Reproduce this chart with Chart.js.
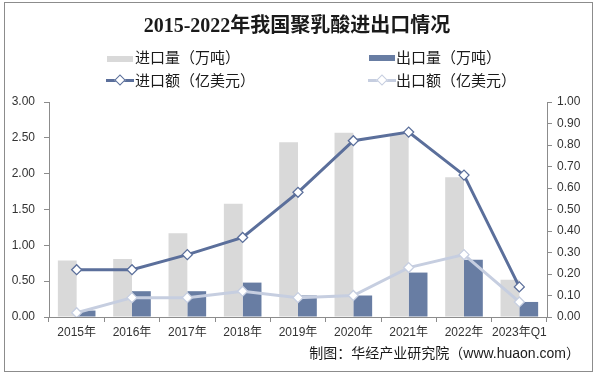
<!DOCTYPE html>
<html>
<head>
<meta charset="utf-8">
<script src="https://cdn.jsdelivr.net/npm/chart.js@4.4.1/dist/chart.umd.min.js"></script>
<style>
  html, body { margin: 0; padding: 0; background: #fff; }
  .app { position: relative; width: 598px; height: 374px; overflow: hidden;
    font-family: "Liberation Sans", "Noto Sans CJK SC", sans-serif; color: #262626; }
  .frame { position: absolute; left: 4px; top: 2px; width: 587px; height: 368px;
    border: 1px solid #8c8c8c; pointer-events: none; }
  #chartWrap { position: absolute; left: 0; top: 0; width: 598px; height: 374px; }
  .title { position: absolute; left: 0; width: 594px; top: 13px; text-align: center;
    font: bold 20px "Liberation Serif", "Noto Sans CJK SC", serif; color: #1a1a1a; line-height: 24px; }
  .lg { position: absolute; font-size: 15px; line-height: 18px; white-space: nowrap; color: #1a1a1a; }
  .sw { position: absolute; }
  .bar { height: 6px; }
  .ln { height: 3px; }
  .dia { position: absolute; width: 6px; height: 6px; background: #fff;
    border: 1.3px solid; transform: rotate(45deg); }
  .src { position: absolute; right: 18px; top: 344px; font-size: 14px; line-height: 18px; color: #1a1a1a; }
</style>
</head>
<body>
<div class="app">
  <div id="chartWrap"><canvas id="chart" width="598" height="374"></canvas></div>
  <div class="title">2015-2022年我国聚乳酸进出口情况</div>

  <div class="sw bar" style="left:107px;top:56px;width:26px;background:#d9d9d9"></div>
  <div class="lg" style="left:135px;top:49px">进口量（万吨）</div>
  <div class="sw bar" style="left:369px;top:55px;width:26px;background:#687da3"></div>
  <div class="lg" style="left:396px;top:49px">出口量（万吨）</div>

  <div class="sw ln" style="left:106px;top:79px;width:28px;background:#5b6f9b"></div>
  <div class="dia" style="left:116px;top:76px;border-color:#5b6f9b"></div>
  <div class="lg" style="left:135px;top:72px">进口额（亿美元）</div>
  <div class="sw ln" style="left:368px;top:79px;width:28px;background:#c6cee0"></div>
  <div class="dia" style="left:378px;top:76px;border-color:#c6cee0"></div>
  <div class="lg" style="left:396px;top:72px">出口额（亿美元）</div>

  <div class="src">制图：华经产业研究院（www.huaon.com）</div>
  <div class="frame"></div>
</div>
<script>
  const categories = ["2015年", "2016年", "2017年", "2018年", "2019年", "2020年", "2021年", "2022年", "2023年Q1"];
  // 万吨 (left axis)
  const importVolume = [0.79, 0.81, 1.17, 1.58, 2.44, 2.57, 2.55, 1.95, 0.52];
  const exportVolume = [0.09, 0.36, 0.36, 0.48, 0.30, 0.30, 0.62, 0.80, 0.21];
  // 亿美元 (right axis)
  const importValue = [0.22, 0.22, 0.29, 0.37, 0.58, 0.82, 0.86, 0.66, 0.14];
  const exportValue = [0.02, 0.09, 0.09, 0.12, 0.09, 0.10, 0.23, 0.29, 0.07];
  const leftTicks = [0, 0.5, 1, 1.5, 2, 2.5, 3];
  const rightTicks = [0, 0.1, 0.2, 0.3, 0.4, 0.5, 0.6, 0.7, 0.8, 0.9, 1];

  const axisColor = "#8c8c8c";
  const tickColor = "#333";
  const tickFont = { family: "'Liberation Sans', 'Noto Sans CJK SC', sans-serif", size: 12 };

  function lineSet(label, data, color) {
    return {
      type: "line",
      label: label,
      data: data,
      yAxisID: "y2",
      borderColor: color,
      borderWidth: 3,
      tension: 0,
      pointStyle: "rectRot",
      pointRadius: 5,
      pointBackgroundColor: "#fff",
      pointBorderColor: color,
      pointBorderWidth: 1.3,
      order: 0,
    };
  }

  function barSet(label, data, color) {
    return {
      type: "bar",
      label: label,
      data: data,
      yAxisID: "y",
      backgroundColor: color,
      barPercentage: 1,
      categoryPercentage: 0.68,
      order: 1,
    };
  }

  new Chart(document.getElementById("chart"), {
    data: {
      labels: categories,
      datasets: [
        barSet("进口量（万吨）", importVolume, "#d9d9d9"),
        barSet("出口量（万吨）", exportVolume, "#687da3"),
        lineSet("进口额（亿美元）", importValue, "#5b6f9b"),
        lineSet("出口额（亿美元）", exportValue, "#c6cee0"),
      ],
    },
    options: {
      responsive: false,
      animation: false,
      layout: { padding: { top: 102, left: 0, right: 0, bottom: 0 } },
      plugins: { legend: { display: false }, title: { display: false }, tooltip: { enabled: false } },
      scales: {
        x: {
          offset: true,
          grid: { display: true, drawOnChartArea: false, drawTicks: true, tickLength: 5, color: axisColor, offset: true },
          border: { display: true, color: axisColor },
          ticks: { color: tickColor, font: tickFont, padding: 3, maxRotation: 0, autoSkip: false },
          afterFit: function (s) { s.height = 57; },
        },
        y: {
          position: "left",
          min: 0,
          max: 3,
          afterBuildTicks: function (s) { s.ticks = leftTicks.map(function (v) { return { value: v }; }); },
          grid: { display: true, drawOnChartArea: false, drawTicks: true, tickLength: 5, color: axisColor },
          border: { display: true, color: axisColor },
          ticks: { color: tickColor, font: tickFont, padding: 9, callback: function (v) { return Number(v).toFixed(2); } },
          afterFit: function (s) { s.width = 49; },
        },
        y2: {
          position: "right",
          min: 0,
          max: 1,
          afterBuildTicks: function (s) { s.ticks = rightTicks.map(function (v) { return { value: v }; }); },
          grid: { display: true, drawOnChartArea: false, drawTicks: true, tickLength: 5, color: axisColor },
          border: { display: true, color: axisColor },
          ticks: { color: tickColor, font: tickFont, padding: 5, callback: function (v) { return Number(v).toFixed(2); } },
          afterFit: function (s) { s.width = 51; },
        },
      },
    },
  });
</script>
</body>
</html>
